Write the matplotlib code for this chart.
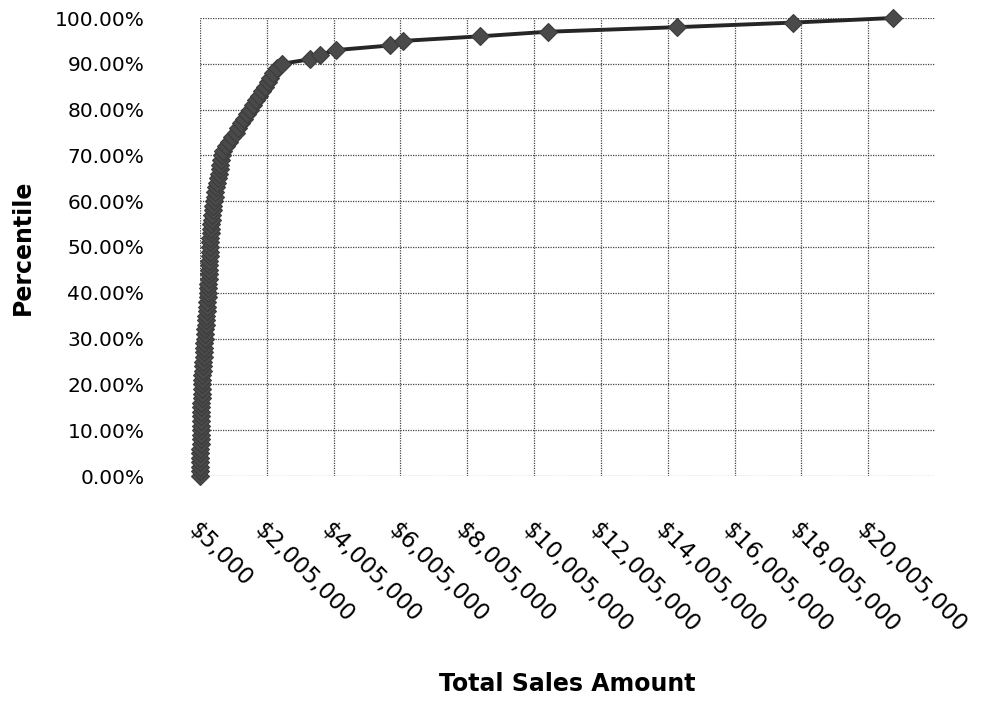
import numpy as np
import matplotlib
matplotlib.use("Agg")
from matplotlib import pyplot as plt
from matplotlib.ticker import FuncFormatter

plt.rcParams['font.family'] = ['DejaVu Sans']

# sorted sales totals (thousands of dollars), one per percentile step
sales_k = [
	5, 8, 10, 12, 14, 16, 18, 20, 22, 25,
	28, 31, 34, 37, 40, 43, 46, 50, 54, 58,
	62, 70, 78, 86, 94, 102, 110, 118, 126, 135,
	145, 155, 165, 175, 185, 195, 205, 215, 225, 235,
	245, 250, 256, 262, 268, 274, 280, 286, 292, 298,
	305, 310, 315, 320, 330, 340, 355, 370, 385, 400,
	420, 440, 465, 490, 515, 540, 565, 590, 615, 640,
	665, 700, 780, 870, 960, 1080, 1140, 1230, 1320, 1410,
	1500, 1590, 1680, 1770, 1860, 1950, 2040, 2100, 2190, 2310,
	2460, 3300, 3600, 4080, 5690, 6080, 8390, 10420, 14290, 17760,
	20750,
]
sales = np.array(sales_k, dtype=float) * 1000
percentile = np.arange(len(sales)) / (len(sales) - 1)

x_ticks = [5000 + 2000000 * k for k in range(11)]
y_ticks = [k / 10 for k in range(11)]

fig = plt.figure(figsize=(9.9, 7.02), dpi=100)
ax = fig.add_axes([200 / 990, 1 - 476 / 702, 735 / 990, 458 / 702])

ax.plot(sales, percentile, color="#262626", lw=2.8, marker="D", ms=9.5,
	mfc="#4a4a4a", mec="#3c3c3c", mew=0.8, zorder=3, clip_on=False)

ax.set_xlim(5000, 22005000)
ax.set_ylim(0, 1)
ax.set_xticks(x_ticks)
ax.set_yticks(y_ticks)
ax.xaxis.set_major_formatter(FuncFormatter(lambda v, _: f"${v:,.0f}"))
ax.yaxis.set_major_formatter(FuncFormatter(lambda v, _: f"{v * 100:.2f}%"))

ax.grid(True, color="#444444", linestyle=(0, (1, 1)), lw=0.9)
for s in ax.spines.values():
	s.set_visible(False)

ax.tick_params(axis="y", length=0, labelsize=14.5, pad=40)
ax.tick_params(axis="x", length=0, labelsize=16.5, pad=30)
for lbl in ax.get_xticklabels():
	lbl.set_rotation(-45)
	lbl.set_ha("left")
	lbl.set_va("top")
	lbl.set_rotation_mode("anchor")

ax.set_xlabel("Total Sales Amount", fontsize=17, fontweight="bold")
ax.set_ylabel("Percentile", fontsize=17, fontweight="bold")
ax.xaxis.set_label_coords(0.5, -0.428)
ax.yaxis.set_label_coords(-0.2245, 0.5)

fig.savefig("out.png", dpi=100)
